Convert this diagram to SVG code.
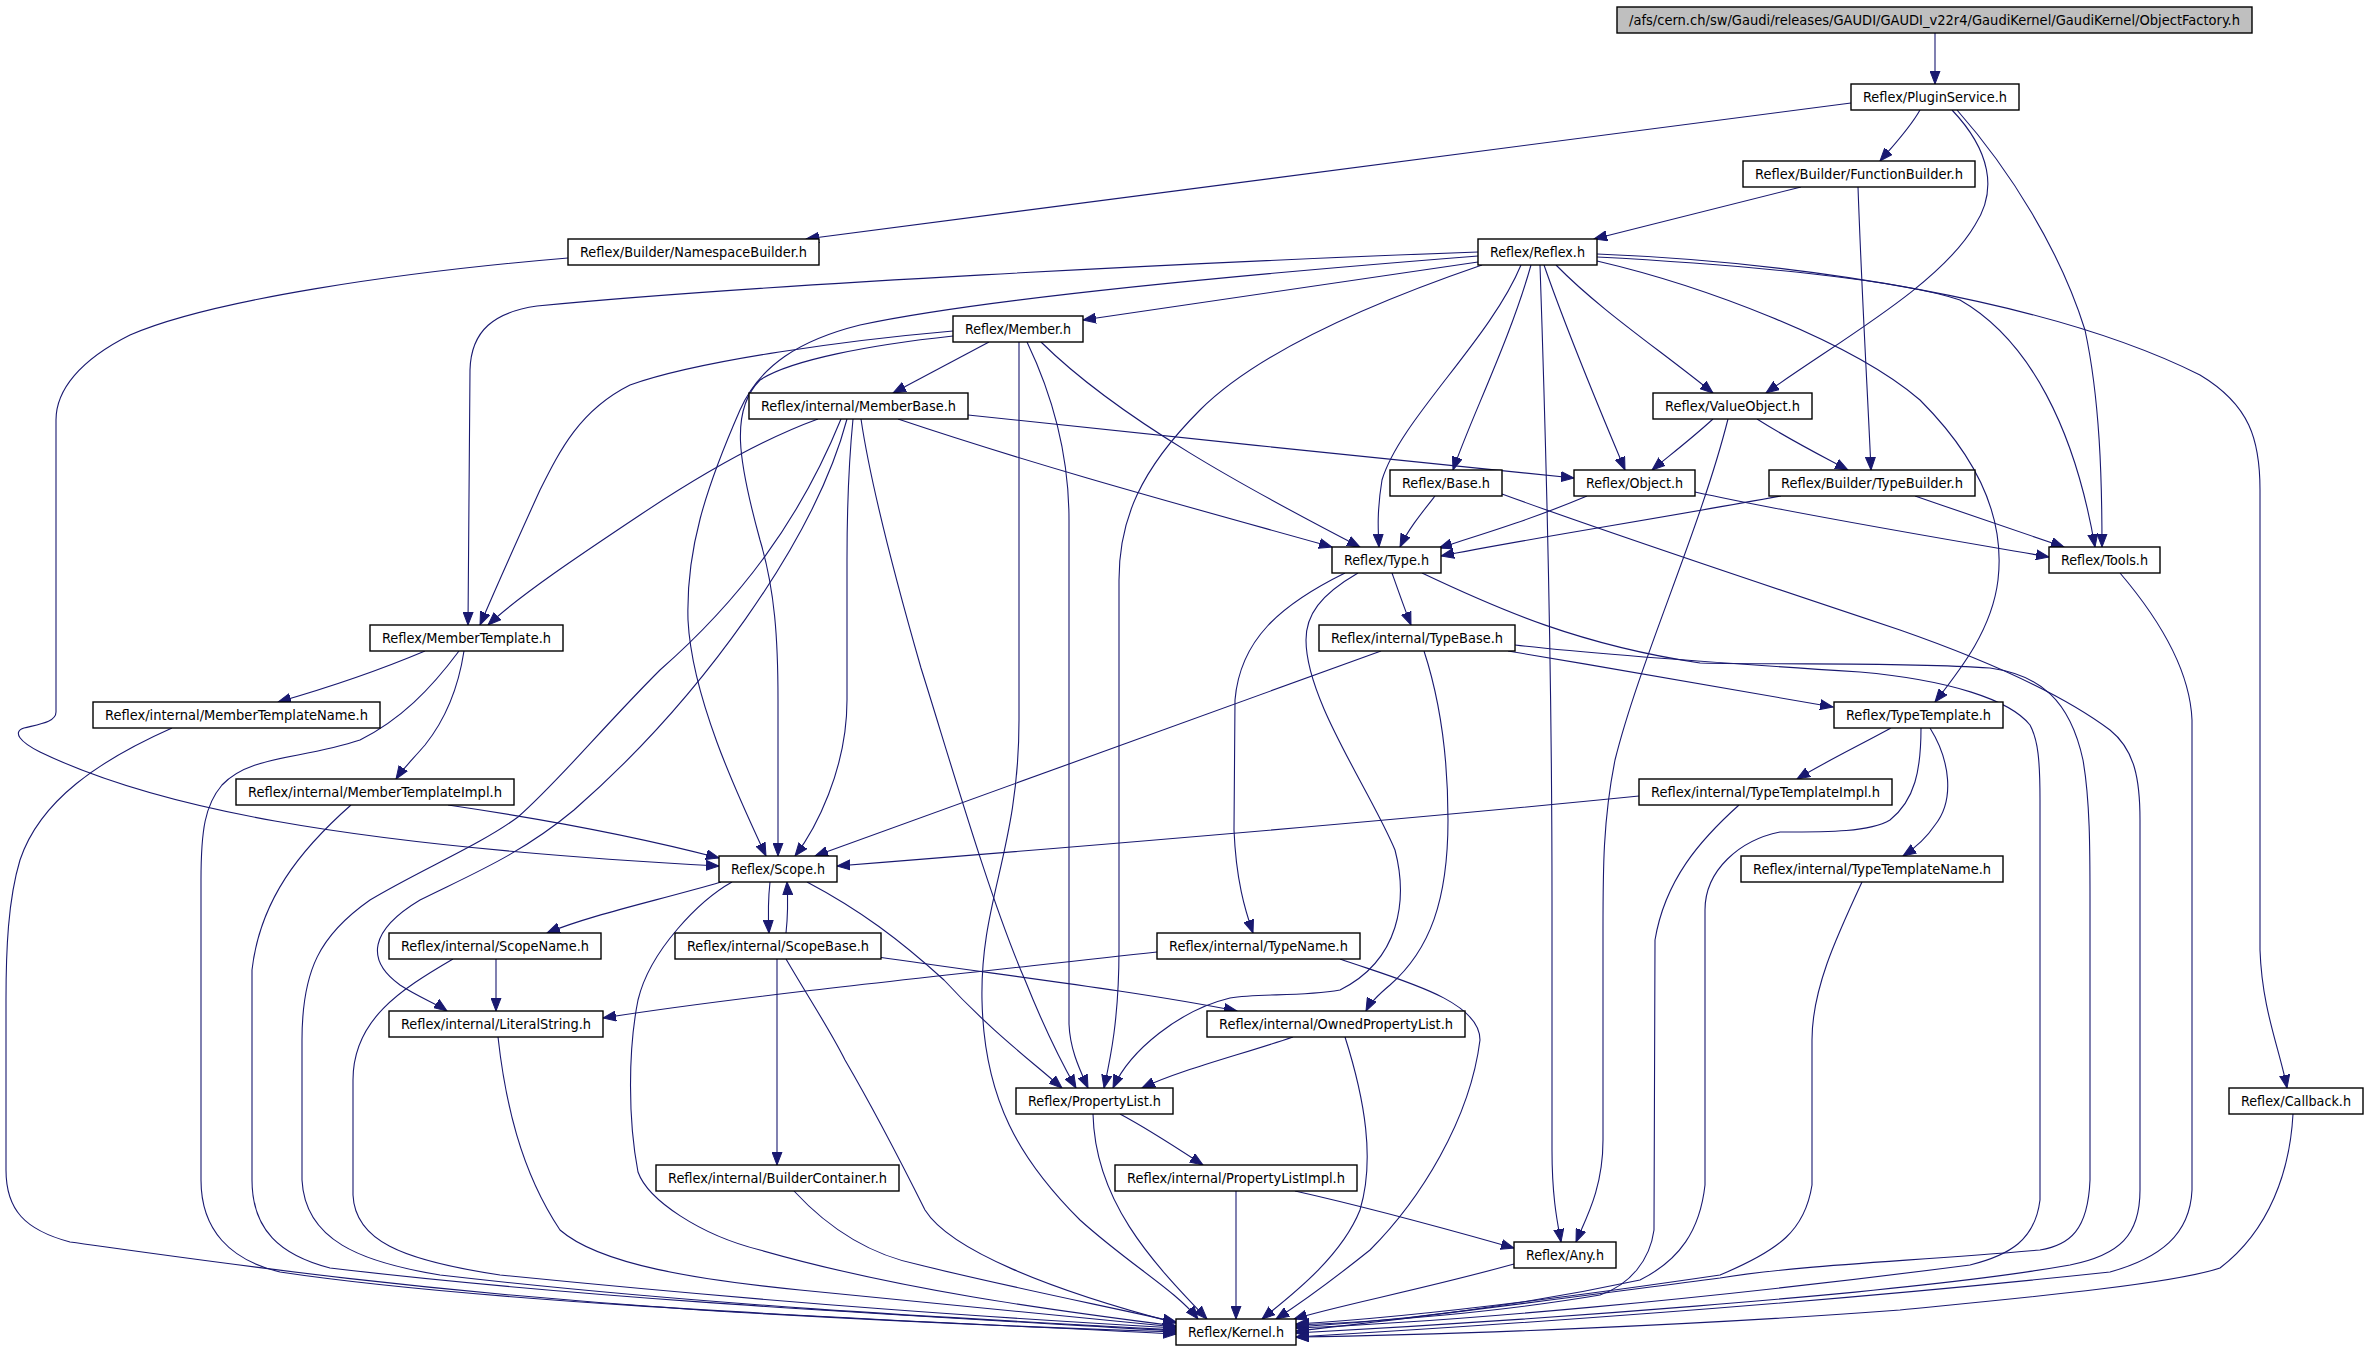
<svg xmlns="http://www.w3.org/2000/svg" width="2368" height="1355" viewBox="0 0 2368 1355">
<style>
.n rect{fill:#fff;stroke:#000;stroke-width:1.4}
.n.g rect{fill:#bfbfbf}
.n text{font-family:"DejaVu Sans Condensed","DejaVu Sans",sans-serif;font-size:14px;fill:#000;text-anchor:middle}
.e path{fill:none;stroke:#191970;stroke-width:1.1;marker-end:url(#a)}
</style>
<defs>
<marker id="a" markerUnits="userSpaceOnUse" markerWidth="14" markerHeight="11" refX="13" refY="5" orient="auto" viewBox="0 0 14 10">
<path d="M0,0 L13,5 L0,10 z" fill="#191970" stroke="#191970" stroke-width="1"/>
</marker>
</defs>
<rect width="2368" height="1355" fill="#fff"/>
<g id="connectors" class="e">
<path d="M1935,33 L1935,84"/>
<path d="M1851,103 L806,239"/>
<path d="M1920,110 C1910,128 1893,146 1880,161"/>
<path d="M1952,110 C1990,150 1998,190 1975,225 C1940,285 1840,340 1766,393"/>
<path d="M1957,110 C2010,170 2060,250 2085,330 C2100,400 2102,480 2102,547"/>
<path d="M1801,187 L1594,239"/>
<path d="M1858,187 C1862,300 1868,400 1871,470"/>
<path d="M568,258 C400,272 210,300 130,335 C80,360 56,390 56,420 L56,712 C56,722 40,724 24,728 C12,732 20,742 40,752 C150,805 330,845 719,866"/>
<path d="M1478,252 C1200,262 750,285 537,306 C495,312 471,330 470,370 L468,625"/>
<path d="M1478,256 C1300,270 1000,295 860,325 C800,340 760,365 740,410 C705,490 686,550 688,620 C692,700 740,800 766,856"/>
<path d="M1478,262 L1083,320"/>
<path d="M1482,265 C1380,300 1260,350 1200,410 C1140,470 1119,520 1119,580 L1119,950 C1119,1020 1110,1060 1104,1088"/>
<path d="M1521,265 C1490,340 1400,420 1382,480 C1377,510 1378,530 1379,547"/>
<path d="M1531,265 C1510,340 1470,420 1453,470"/>
<path d="M1540,265 C1548,500 1552,700 1552,900 L1552,1150 C1552,1200 1558,1225 1561,1242"/>
<path d="M1544,265 C1570,340 1600,410 1625,470"/>
<path d="M1556,265 C1600,310 1660,350 1713,393"/>
<path d="M1597,261 C1700,285 1850,340 1920,400 C1980,460 2005,520 1998,580 C1992,630 1960,670 1935,702"/>
<path d="M1597,257 C1750,265 1900,280 1960,300 C2030,340 2075,430 2095,547"/>
<path d="M1597,254 C1800,262 2050,300 2200,375 C2250,405 2260,440 2260,490 L2260,950 C2262,1010 2280,1050 2287,1088"/>
<path d="M953,331 C850,340 700,360 630,385 C580,410 560,450 540,490 C515,545 495,590 480,625"/>
<path d="M953,336 C870,345 790,360 760,380 C730,410 738,460 760,540 C775,590 778,640 778,700 L778,856"/>
<path d="M989,342 L893,393"/>
<path d="M1019,342 L1019,720 C1019,850 980,900 982,1000 C984,1100 1020,1160 1080,1220 C1130,1265 1175,1290 1198,1319"/>
<path d="M1027,342 C1050,390 1069,450 1069,520 L1069,1024 C1070,1050 1080,1070 1088,1088"/>
<path d="M1041,342 C1120,420 1250,490 1360,547"/>
<path d="M968,415 C1150,435 1400,460 1574,478"/>
<path d="M898,419 C1050,470 1200,510 1332,547"/>
<path d="M818,419 C760,440 700,475 640,515 C580,555 520,595 488,625"/>
<path d="M841,419 C800,520 740,600 660,670 C600,730 560,780 518,817 C480,845 420,870 370,900 C320,935 302,970 302,1040 L302,1180 C305,1240 360,1262 440,1275 C700,1305 950,1318 1176,1330"/>
<path d="M847,419 C815,540 700,700 574,810 C520,855 470,875 420,900 C370,930 365,960 400,985 C420,998 437,1004 447,1011"/>
<path d="M853,419 C849,460 847,500 847,560 L847,700 C847,770 815,830 795,856"/>
<path d="M861,419 C870,480 890,560 921,668 C950,760 990,900 1025,980 C1045,1030 1060,1060 1076,1088"/>
<path d="M1713,419 C1690,440 1670,455 1652,470"/>
<path d="M1757,419 C1790,440 1820,455 1848,470"/>
<path d="M1728,419 C1700,530 1640,660 1615,760 C1603,820 1603,870 1603,930 L1603,1140 C1603,1190 1585,1220 1576,1242"/>
<path d="M1435,496 C1420,515 1408,530 1400,547"/>
<path d="M1502,494 C1600,530 1780,590 1900,630 C2000,665 2070,700 2110,730 C2135,750 2140,780 2140,820 L2140,1190 C2140,1235 2120,1255 2070,1265 C1900,1295 1500,1322 1296,1333"/>
<path d="M1587,496 C1530,520 1480,535 1439,548"/>
<path d="M1695,492 C1800,515 1950,540 2049,557"/>
<path d="M1781,496 C1650,520 1520,540 1441,556"/>
<path d="M1915,496 C1970,515 2030,535 2064,547"/>
<path d="M1392,573 C1398,590 1405,610 1411,625"/>
<path d="M1345,573 C1280,605 1240,640 1235,700 L1234,830 C1236,880 1245,910 1253,933"/>
<path d="M1358,573 C1320,595 1306,615 1306,640 C1306,700 1370,790 1395,850 C1408,900 1400,960 1340,990 C1300,997 1260,993 1230,998 C1180,1010 1130,1050 1113,1088"/>
<path d="M1422,573 C1500,610 1580,645 1700,663 C1800,665 1900,662 1990,668 C2040,675 2070,700 2083,760 C2090,800 2090,850 2090,900 L2090,1180 C2088,1230 2070,1245 2040,1250 C1900,1262 1800,1265 1720,1278 C1550,1300 1400,1320 1296,1331"/>
<path d="M2120,573 C2160,620 2190,670 2192,720 L2192,1190 C2190,1235 2160,1258 2110,1272 C1800,1305 1500,1325 1296,1337"/>
<path d="M425,651 C380,670 320,690 278,702"/>
<path d="M464,651 C458,690 445,720 425,745 C412,760 402,770 396,779"/>
<path d="M459,651 C430,690 400,720 360,740 C300,760 250,755 222,785 C205,805 201,830 201,880 L201,1180 C201,1230 230,1260 280,1272 C500,1305 900,1320 1176,1334"/>
<path d="M1381,651 L815,856"/>
<path d="M1508,651 C1620,670 1740,690 1833,707"/>
<path d="M1424,651 C1440,700 1448,760 1448,820 C1448,900 1430,950 1390,985 C1378,995 1370,1003 1366,1011"/>
<path d="M1515,645 C1600,655 1750,665 1860,672 C1950,680 2010,700 2030,725 C2038,740 2040,760 2040,800 L2040,1200 C2035,1240 2010,1255 1970,1265 C1700,1300 1450,1322 1296,1328"/>
<path d="M172,728 C100,760 40,800 20,860 C8,900 6,950 6,1000 L6,1170 C6,1210 25,1230 70,1242 C200,1260 400,1290 700,1310 C900,1322 1050,1328 1176,1332"/>
<path d="M1891,728 C1860,745 1825,762 1797,779"/>
<path d="M1930,728 C1950,760 1955,800 1935,825 C1925,840 1912,850 1903,856"/>
<path d="M1921,728 C1921,770 1915,800 1890,820 C1870,832 1830,832 1780,832 C1740,840 1705,870 1705,910 L1705,1185 C1700,1230 1680,1260 1640,1280 C1500,1310 1380,1322 1296,1327"/>
<path d="M448,805 C550,820 650,840 719,858"/>
<path d="M351,805 C300,850 260,900 252,970 L252,1180 C252,1230 280,1255 330,1268 C600,1300 900,1315 1176,1331"/>
<path d="M1639,796 C1400,820 1100,845 837,866"/>
<path d="M1739,805 C1700,840 1665,880 1655,940 L1654,1230 C1650,1260 1630,1285 1600,1295 C1500,1312 1380,1322 1296,1325"/>
<path d="M721,882 C660,900 590,915 547,933"/>
<path d="M770,882 C768,900 768,915 769,933"/>
<path d="M807,882 C860,910 900,940 944,980 C990,1030 1030,1060 1062,1088"/>
<path d="M732,882 C700,900 650,950 638,1000 C628,1050 628,1120 638,1172 C648,1200 700,1235 760,1250 C900,1290 1050,1310 1176,1326"/>
<path d="M1862,882 C1835,940 1812,990 1812,1040 L1812,1185 C1805,1230 1780,1250 1720,1275 C1550,1300 1400,1318 1296,1324"/>
<path d="M496,959 L496,1011"/>
<path d="M453,959 C400,990 353,1020 353,1080 L353,1195 C355,1240 400,1260 500,1275 C800,1305 1000,1318 1176,1328"/>
<path d="M786,933 C788,915 788,900 787,882"/>
<path d="M878,957 C1000,975 1130,990 1237,1011"/>
<path d="M777,959 L777,1165"/>
<path d="M786,959 C810,1000 830,1030 845,1060 C880,1120 905,1170 925,1210 C950,1250 1050,1290 1176,1323"/>
<path d="M1157,952 C950,975 750,995 603,1018"/>
<path d="M1340,959 C1400,980 1480,1000 1480,1040 C1470,1120 1420,1200 1370,1250 C1320,1290 1290,1310 1276,1319"/>
<path d="M498,1037 C505,1100 520,1170 560,1230 C600,1265 700,1280 800,1290 C1000,1310 1100,1320 1176,1327"/>
<path d="M1293,1037 C1240,1055 1180,1070 1142,1088"/>
<path d="M1345,1037 C1365,1100 1375,1160 1360,1210 C1340,1260 1285,1300 1262,1319"/>
<path d="M1120,1114 C1150,1130 1180,1150 1203,1165"/>
<path d="M1093,1114 C1095,1200 1150,1260 1207,1319"/>
<path d="M2293,1114 C2290,1170 2270,1230 2220,1268 C2170,1285 2000,1300 1900,1310 C1700,1325 1450,1335 1296,1337"/>
<path d="M794,1191 C830,1230 870,1255 920,1265 C1000,1285 1100,1305 1176,1322"/>
<path d="M1236,1191 L1236,1319"/>
<path d="M1295,1191 C1380,1210 1450,1230 1514,1248"/>
<path d="M1514,1264 C1420,1290 1340,1305 1294,1319"/>
</g>
<g id="objectfactory" class="n g"><rect x="1617" y="7" width="635" height="26"/><text x="1934.5" y="25" textLength="611" lengthAdjust="spacingAndGlyphs">/afs/cern.ch/sw/Gaudi/releases/GAUDI/GAUDI_v22r4/GaudiKernel/GaudiKernel/ObjectFactory.h</text></g>
<g id="pluginservice" class="n"><rect x="1851" y="84" width="168" height="26"/><text x="1935" y="102" textLength="144" lengthAdjust="spacingAndGlyphs">Reflex/PluginService.h</text></g>
<g id="functionbuilder" class="n"><rect x="1743" y="161" width="232" height="26"/><text x="1859" y="179" textLength="208" lengthAdjust="spacingAndGlyphs">Reflex/Builder/FunctionBuilder.h</text></g>
<g id="namespacebuilder" class="n"><rect x="568" y="239" width="251" height="26"/><text x="693.5" y="257" textLength="227" lengthAdjust="spacingAndGlyphs">Reflex/Builder/NamespaceBuilder.h</text></g>
<g id="reflex" class="n"><rect x="1478" y="239" width="119" height="26"/><text x="1537.5" y="257" textLength="95" lengthAdjust="spacingAndGlyphs">Reflex/Reflex.h</text></g>
<g id="member" class="n"><rect x="953" y="316" width="130" height="26"/><text x="1018" y="334" textLength="106" lengthAdjust="spacingAndGlyphs">Reflex/Member.h</text></g>
<g id="memberbase" class="n"><rect x="749" y="393" width="219" height="26"/><text x="858.5" y="411" textLength="195" lengthAdjust="spacingAndGlyphs">Reflex/internal/MemberBase.h</text></g>
<g id="valueobject" class="n"><rect x="1653" y="393" width="159" height="26"/><text x="1732.5" y="411" textLength="135" lengthAdjust="spacingAndGlyphs">Reflex/ValueObject.h</text></g>
<g id="base" class="n"><rect x="1390" y="470" width="112" height="26"/><text x="1446" y="488" textLength="88" lengthAdjust="spacingAndGlyphs">Reflex/Base.h</text></g>
<g id="object" class="n"><rect x="1574" y="470" width="121" height="26"/><text x="1634.5" y="488" textLength="97" lengthAdjust="spacingAndGlyphs">Reflex/Object.h</text></g>
<g id="typebuilder" class="n"><rect x="1769" y="470" width="206" height="26"/><text x="1872" y="488" textLength="182" lengthAdjust="spacingAndGlyphs">Reflex/Builder/TypeBuilder.h</text></g>
<g id="type" class="n"><rect x="1332" y="547" width="109" height="26"/><text x="1386.5" y="565" textLength="85" lengthAdjust="spacingAndGlyphs">Reflex/Type.h</text></g>
<g id="tools" class="n"><rect x="2049" y="547" width="111" height="26"/><text x="2104.5" y="565" textLength="87" lengthAdjust="spacingAndGlyphs">Reflex/Tools.h</text></g>
<g id="membertemplate" class="n"><rect x="370" y="625" width="193" height="26"/><text x="466.5" y="643" textLength="169" lengthAdjust="spacingAndGlyphs">Reflex/MemberTemplate.h</text></g>
<g id="typebase" class="n"><rect x="1319" y="625" width="196" height="26"/><text x="1417" y="643" textLength="172" lengthAdjust="spacingAndGlyphs">Reflex/internal/TypeBase.h</text></g>
<g id="membertemplatename" class="n"><rect x="93" y="702" width="287" height="26"/><text x="236.5" y="720" textLength="263" lengthAdjust="spacingAndGlyphs">Reflex/internal/MemberTemplateName.h</text></g>
<g id="typetemplate" class="n"><rect x="1834" y="702" width="169" height="26"/><text x="1918.5" y="720" textLength="145" lengthAdjust="spacingAndGlyphs">Reflex/TypeTemplate.h</text></g>
<g id="membertemplateimpl" class="n"><rect x="236" y="779" width="278" height="26"/><text x="375" y="797" textLength="254" lengthAdjust="spacingAndGlyphs">Reflex/internal/MemberTemplateImpl.h</text></g>
<g id="typetemplateimpl" class="n"><rect x="1639" y="779" width="253" height="26"/><text x="1765.5" y="797" textLength="229" lengthAdjust="spacingAndGlyphs">Reflex/internal/TypeTemplateImpl.h</text></g>
<g id="scope" class="n"><rect x="719" y="856" width="118" height="26"/><text x="778" y="874" textLength="94" lengthAdjust="spacingAndGlyphs">Reflex/Scope.h</text></g>
<g id="typetemplatename" class="n"><rect x="1741" y="856" width="262" height="26"/><text x="1872" y="874" textLength="238" lengthAdjust="spacingAndGlyphs">Reflex/internal/TypeTemplateName.h</text></g>
<g id="scopename" class="n"><rect x="389" y="933" width="212" height="26"/><text x="495" y="951" textLength="188" lengthAdjust="spacingAndGlyphs">Reflex/internal/ScopeName.h</text></g>
<g id="scopebase" class="n"><rect x="675" y="933" width="206" height="26"/><text x="778" y="951" textLength="182" lengthAdjust="spacingAndGlyphs">Reflex/internal/ScopeBase.h</text></g>
<g id="typename" class="n"><rect x="1157" y="933" width="203" height="26"/><text x="1258.5" y="951" textLength="179" lengthAdjust="spacingAndGlyphs">Reflex/internal/TypeName.h</text></g>
<g id="literalstring" class="n"><rect x="389" y="1011" width="214" height="26"/><text x="496" y="1029" textLength="190" lengthAdjust="spacingAndGlyphs">Reflex/internal/LiteralString.h</text></g>
<g id="ownedpropertylist" class="n"><rect x="1207" y="1011" width="258" height="26"/><text x="1336" y="1029" textLength="234" lengthAdjust="spacingAndGlyphs">Reflex/internal/OwnedPropertyList.h</text></g>
<g id="propertylist" class="n"><rect x="1016" y="1088" width="157" height="26"/><text x="1094.5" y="1106" textLength="133" lengthAdjust="spacingAndGlyphs">Reflex/PropertyList.h</text></g>
<g id="callback" class="n"><rect x="2229" y="1088" width="134" height="26"/><text x="2296" y="1106" textLength="110" lengthAdjust="spacingAndGlyphs">Reflex/Callback.h</text></g>
<g id="buildercontainer" class="n"><rect x="656" y="1165" width="243" height="26"/><text x="777.5" y="1183" textLength="219" lengthAdjust="spacingAndGlyphs">Reflex/internal/BuilderContainer.h</text></g>
<g id="propertylistimpl" class="n"><rect x="1115" y="1165" width="242" height="26"/><text x="1236" y="1183" textLength="218" lengthAdjust="spacingAndGlyphs">Reflex/internal/PropertyListImpl.h</text></g>
<g id="any" class="n"><rect x="1514" y="1242" width="102" height="26"/><text x="1565" y="1260" textLength="78" lengthAdjust="spacingAndGlyphs">Reflex/Any.h</text></g>
<g id="kernel" class="n"><rect x="1176" y="1319" width="120" height="26"/><text x="1236" y="1337" textLength="96" lengthAdjust="spacingAndGlyphs">Reflex/Kernel.h</text></g>
</svg>
